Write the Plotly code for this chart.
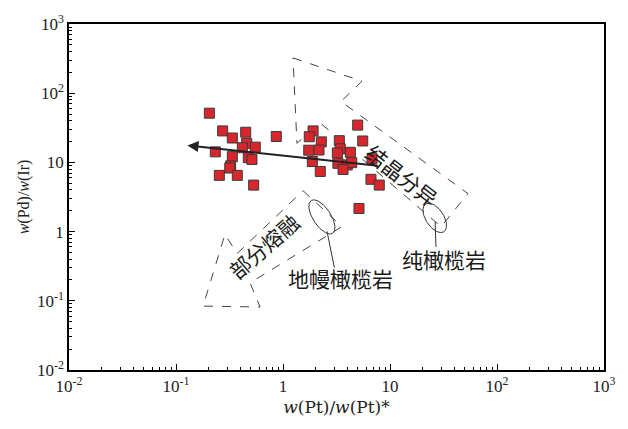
import numpy as np
import plotly.graph_objects as go

# ---- data ----
pt_ratio = [0.205, 0.273, 0.336, 0.448, 0.865, 0.458, 0.551, 0.417, 0.233, 0.336,
            0.474, 0.513, 0.324, 0.318, 0.254, 0.374, 0.532,
            1.91, 1.76, 2.28, 1.74, 2.17, 1.88, 2.23,
            4.99, 5.56, 3.36, 3.43, 3.22, 4.26, 3.26, 3.99, 4.39, 3.64,
            6.79, 6.64, 7.94, 5.13]
pd_ir = [51.4, 28.5, 22.5, 27.3, 23.7, 18.9, 16.6, 16.3, 14.2, 12.1,
         11.7, 11.0, 8.9, 8.3, 6.5, 6.5, 4.7,
         28.5, 23.5, 19.8, 15.0, 15.1, 10.3, 7.4,
         34.6, 20.4, 20.6, 15.7, 13.7, 14.0, 9.7, 9.2, 9.9, 7.9,
         11.3, 5.7, 4.7, 2.16]

# trend arrow (start -> end)
trend_x = [7.94, 0.128]
trend_y = [8.93, 17.6]

# dashed arrow outlines
fc_x = [1.24, 5.47, 3.48, 53.6, 30.0, 2.22, 1.35, 1.24]
fc_y = [323.6, 149.3, 75.9, 3.54, 1.18, 37.3, 18.9, 323.6]
pm_x = [1.54, 3.56, 0.492, 0.610, 0.179, 0.287, 0.372, 1.54]
pm_y = [3.90, 1.18, 0.182, 0.0813, 0.0839, 0.914, 0.480, 3.90]

# ellipses: centre (data)
ell_x = [2.31, 26.2]
ell_y = [1.63, 1.58]

# leader lines
lead1_x, lead1_y = [2.58, 3.02], [1.01, 0.30]
lead2_x, lead2_y = [26.4, 26.9], [1.39, 0.60]

labels = ["结晶分异", "部分熔融", "地幔橄榄岩", "纯橄榄岩"]
label_x = [12.85, 0.664, 3.41, 32.0]
label_y = [6.53, 0.610, 0.214, 0.408]
label_angle = [38, -41, 0, 0]

tick_vals = [0.01, 0.1, 1, 10, 100, 1000]
tick_text = ["10<sup>-2</sup>", "10<sup>-1</sup>", "1", "10", "10<sup>2</sup>", "10<sup>3</sup>"]
minor_vals = [k * 10.0 ** n for n in range(-2, 3) for k in range(2, 10)]

fig = go.Figure()

dash_line = dict(color="#444", width=1, dash="dash")
fig.add_trace(go.Scatter(x=fc_x, y=fc_y, mode="lines", line=dash_line, hoverinfo="skip"))
fig.add_trace(go.Scatter(x=pm_x, y=pm_y, mode="lines", line=dash_line, hoverinfo="skip"))

# ellipses drawn in screen-like units (px per decade: 107 in x, 71.4 in y)
t = np.linspace(0, 2 * np.pi, 120)
for cx, cy, a, b in zip(ell_x, ell_y, [20, 17], [9, 9]):
    th = np.deg2rad(58)
    u, v = a * np.cos(t), b * np.sin(t)
    dx = u * np.cos(th) - v * np.sin(th)
    dy = u * np.sin(th) + v * np.cos(th)
    lx = np.log10(cx) + dx / 107.0
    ly = np.log10(cy) - dy / 71.4
    fig.add_trace(go.Scatter(x=10 ** lx, y=10 ** ly, mode="lines",
                             line=dict(color="#333", width=1), hoverinfo="skip"))

fig.add_trace(go.Scatter(x=lead1_x, y=lead1_y, mode="lines", line=dict(color="#333", width=1)))
fig.add_trace(go.Scatter(x=lead2_x, y=lead2_y, mode="lines", line=dict(color="#333", width=1)))

fig.add_trace(go.Scatter(x=pt_ratio, y=pd_ir, mode="markers",
                         marker=dict(symbol="square", size=10, color="#d9262c",
                                     line=dict(color="#3a3a3a", width=1))))

fig.add_annotation(x=np.log10(trend_x[1]), y=np.log10(trend_y[1]),
                   ax=np.log10(trend_x[0]), ay=np.log10(trend_y[0]),
                   xref="x", yref="y", axref="x", ayref="y", text="",
                   showarrow=True, arrowhead=2, arrowsize=1.1, arrowwidth=2,
                   arrowcolor="#222")

for txt, x, y, a in zip(labels, label_x, label_y, label_angle):
    fig.add_annotation(x=np.log10(x), y=np.log10(y), text=txt, showarrow=False,
                       textangle=a, font=dict(family="Noto Sans CJK SC", size=21, color="#1a1a1a"))

axis_common = dict(type="log", showgrid=False, zeroline=False, showline=True,
                   linecolor="black", linewidth=1.5, mirror=True,
                   ticks="inside", ticklen=6, tickwidth=1, tickcolor="black",
                   tickvals=tick_vals, ticktext=tick_text,
                   tickfont=dict(family="Liberation Serif", size=17, color="#222"),
                   minor=dict(ticks="inside", ticklen=3, tickwidth=1, tickcolor="black",
                              tickvals=minor_vals, showgrid=False))

fig.update_xaxes(range=[-2, 3], **axis_common,
                 title=dict(text="<i>w</i>(Pt)/<i>w</i>(Pt)*", standoff=6,
                            font=dict(family="DejaVu Serif", size=17, color="#222")))
fig.update_yaxes(range=[-2, 3], **axis_common,
                 title=dict(text="<i>w</i>(Pd)/<i>w</i>(Ir)", standoff=3,
                            font=dict(family="Liberation Serif", size=16, color="#222")))

fig.update_layout(width=628, height=429, showlegend=False,
                  margin=dict(l=69, r=24, t=13, b=59),
                  plot_bgcolor="white", paper_bgcolor="white")

fig.write_html("out.html", config={"displayModeBar": False},
               post_script="document.body.style.margin='0';document.body.style.overflow='hidden';")
